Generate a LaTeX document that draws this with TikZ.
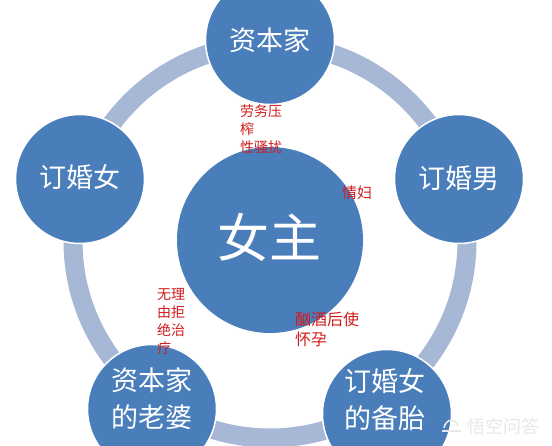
\documentclass[tikz,border=0pt]{standalone}
\usepackage{fontspec}
\newfontfamily\cjk{Noto Sans CJK SC}
\definecolor{circblue}{HTML}{4A7EBB}
\definecolor{ringblue}{HTML}{A7B8D6}
\definecolor{labred}{HTML}{D01C1C}
\definecolor{wmgray}{HTML}{E8E8E8}
\tikzset{
  ringline/.style={draw=ringblue, line width=19pt},
  outercirc/.style={circle, fill=circblue, draw=white, line width=1.5pt, minimum size=129pt, inner sep=0pt},
  centercirc/.style={circle, fill=circblue, minimum size=186pt, inner sep=0pt},
  bigtext/.style={text=white, font=\cjk\fontsize{27}{37}\selectfont, align=center, inner sep=0pt},
  hugetext/.style={text=white, font=\cjk\fontsize{52}{60}\selectfont, inner sep=0pt},
  redlab/.style={text=labred, font=\cjk\fontsize{14}{18}\selectfont, align=left, inner sep=0pt, anchor=west},
  wmtext/.style={text=wmgray, font=\cjk\fontsize{18}{20}\selectfont, inner sep=0pt, anchor=west}
}
\begin{document}
\begin{tikzpicture}[x=1pt,y=-1pt]
\useasboundingbox (0,0) rectangle (552,446);
\clip (0,0) rectangle (552,446);
\fill[white] (0,0) rectangle (552,446);
% ring
\coordinate (ringc) at (270,241);
\draw[ringline] (ringc) circle (197);
% circles
\node[outercirc] (capitalist) at (270,40) {};
\node[outercirc] (fiancee) at (80,179) {};
\node[outercirc] (fiance) at (459,179) {};
\node[outercirc] (wife) at (152,409) {};
\node[outercirc] (backup) at (387,414) {};
\node[centercirc] (heroine) at (270,240) {};
% circle texts
\node[bigtext] (tcap) at (capitalist) {资本家};
\node[bigtext] (tfiancee) at (80,177) {订婚女};
\node[bigtext] (tfiance) at (459,178) {订婚男};
\node[bigtext] (twife) at (152,399) {资本家\\的老婆};
\node[bigtext] (tbackup) at (385,400) {订婚女\\的备胎};
\node[hugetext] (theroine) at (269,237) {女主};
% red labels
\node[redlab] (l1) at (240,129) {劳务压\\榨\\性骚扰};
\node[redlab, font=\cjk\fontsize{15}{18}\selectfont] (l2) at (342,193) {情妇};
\node[redlab] (l3) at (157,322) {无理\\由拒\\绝治\\疗};
\node[redlab, font=\cjk\fontsize{16}{20}\selectfont] (l4) at (295,329) {酗酒后使\\怀孕};
% watermark
\node[wmtext] (wm) at (467,427) {悟空问答};
\draw[wmgray, line width=1.6pt] (442,431) -- (461,431);
\draw[wmgray, line width=1.6pt] (444,428) .. controls (446,418) and (456,418) .. (458,426);
\end{tikzpicture}
\end{document}
